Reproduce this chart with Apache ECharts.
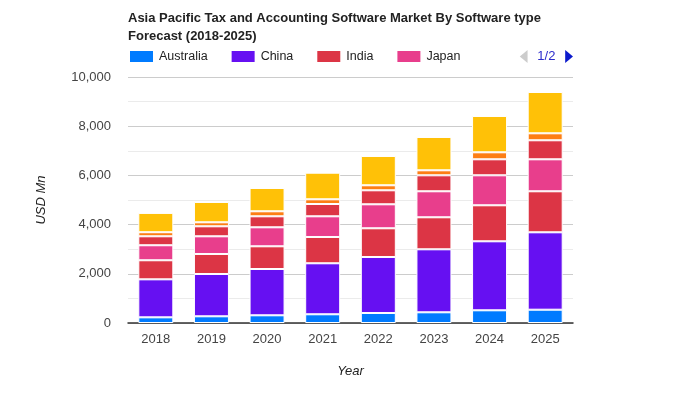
<!DOCTYPE html>
<html>
<head>
<meta charset="utf-8">
<script src="https://cdn.jsdelivr.net/npm/echarts@6/dist/echarts.min.js"></script>
<style>html,body{margin:0;padding:0;background:#fff}#c{width:700px;height:400px}</style>
</head>
<body>
<div id="c"></div>
<script>
const years = ['2018','2019','2020','2021','2022','2023','2024','2025'];
const australia = [230, 272, 313, 354, 407, 435, 516, 541];
const china = [1545, 1720, 1882, 2073, 2276, 2561, 2805, 3146];
const india = [775, 813, 923, 1069, 1167, 1301, 1464, 1667];
const japan = [610, 719, 772, 841, 975, 1057, 1219, 1300];
const southKorea = [365, 407, 447, 500, 569, 650, 650, 773];
const singapore = [165, 162, 204, 191, 204, 203, 285, 284];
const restOfAPAC = [785, 826, 947, 1082, 1191, 1354, 1476, 1679];
const seriesNames = ['Australia','China','India','Japan','South Korea','Singapore','Rest of APAC'];
const seriesData = [australia, china, india, japan, southKorea, singapore, restOfAPAC];
const colors = ['#007bff','#6610f2','#dc3545','#e83e8c','#dc3545','#fd7e14','#ffc107'];
const yTicks = [0, 2000, 4000, 6000, 8000, 10000];

const chart = echarts.init(document.getElementById('c'), null, {renderer:'canvas'});
const font = 'Liberation Sans, Arial, sans-serif';
chart.setOption({
  animation: false,
  color: colors,
  title: {
    text: 'Asia Pacific Tax and Accounting Software Market By Software type\nForecast (2018-2025)',
    left: 128, top: 9, padding: 0,
    textStyle: {fontFamily: font, fontSize: 13, fontWeight: 'bold', color: '#222', lineHeight: 18}
  },
  legend: {
    type: 'scroll',
    left: 128, top: 49, width: 445, padding: 0,
    itemWidth: 25, itemHeight: 13, itemGap: 22,
    icon: 'rect',
    textStyle: {fontFamily: font, fontSize: 12.5, color: '#222'},
    pageIconColor: '#0b1acc', pageIconInactiveColor: '#ccc', pageIconSize: 13,
    pageTextStyle: {fontFamily: font, fontSize: 13, color: '#2b2bcc'},
    pageButtonItemGap: 4, pageButtonGap: 35.7,
    data: seriesNames
  },
  grid: {left: 128, right: 127, top: 77, bottom: 77},
  xAxis: {
    type: 'category', data: years,
    name: 'Year', nameLocation: 'middle', nameGap: 42,
    nameTextStyle: {fontFamily: font, fontSize: 13, fontStyle: 'italic', color: '#222'},
    axisLine: {lineStyle: {color: '#333', width: 1.5}},
    axisTick: {show: false},
    axisLabel: {fontFamily: font, fontSize: 13, color: '#444', margin: 10}
  },
  yAxis: {
    type: 'value', min: yTicks[0], max: yTicks[yTicks.length-1], interval: 2000,
    name: 'USD Mn', nameLocation: 'middle', nameGap: 80,
    nameTextStyle: {fontFamily: font, fontSize: 13, fontStyle: 'italic', color: '#222'},
    axisLine: {show: false}, axisTick: {show: false},
    axisLabel: {fontFamily: font, fontSize: 13, color: '#444', margin: 17,
      formatter: v => v.toLocaleString('en-US')},
    splitLine: {lineStyle: {color: '#ccc'}},
    minorTick: {show: false, splitNumber: 2},
    minorSplitLine: {show: true, lineStyle: {color: '#ebebeb'}}
  },
  series: seriesNames.map((n, i) => ({
    name: n, type: 'bar', stack: 'total', barWidth: 35,
    data: seriesData[i],
    itemStyle: {color: colors[i], borderColor: '#fff', borderWidth: 1}
  }))
});
</script>
</body>
</html>
